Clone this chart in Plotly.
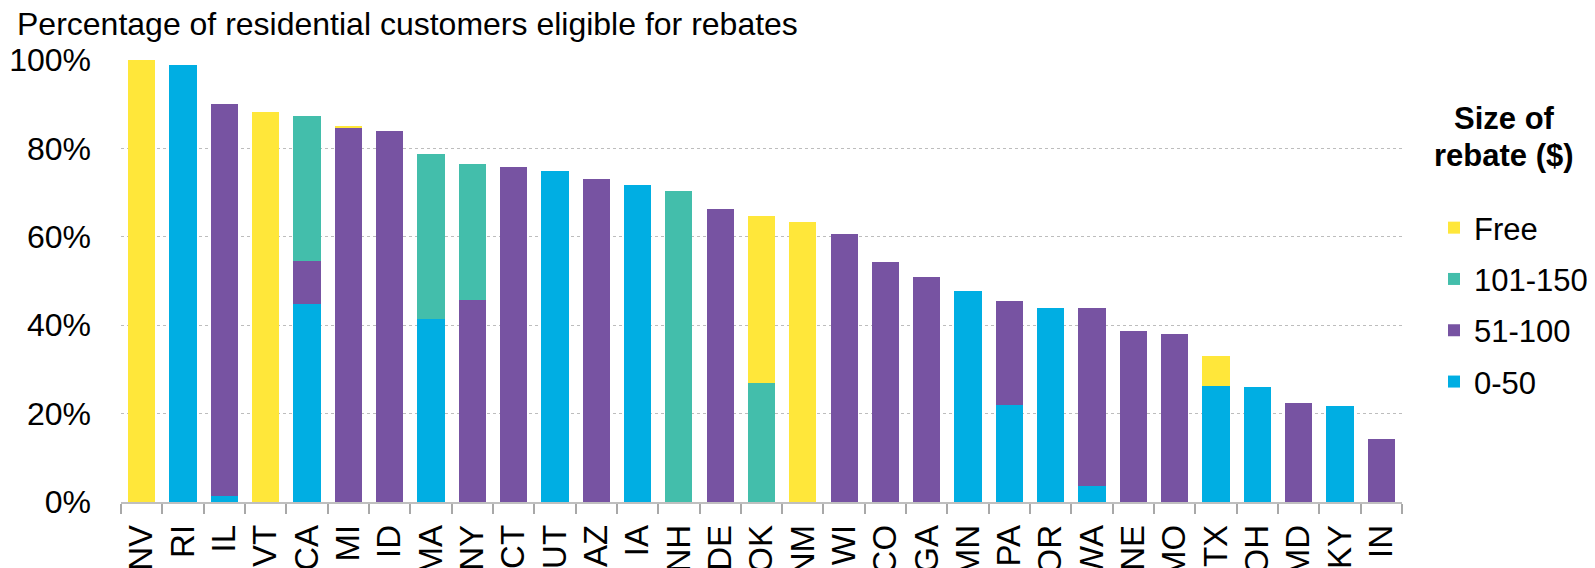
import plotly.graph_objects as go

# the page puts the figure 8 px in from the top-left corner
OFF = 8
W, H = 1595 - OFF, 568 - OFF

states = ["NV", "RI", "IL", "VT", "CA", "MI", "ID", "MA", "NY", "CT", "UT", "AZ", "IA", "NH", "DE", "OK",
          "NM", "WI", "CO", "GA", "MN", "PA", "OR", "WA", "NE", "MO", "TX", "OH", "MD", "KY", "IN"]

# share of residential customers (%) by rebate size
r_0_50 = [0, 98.9, 1.4, 0, 44.8, 0, 0, 41.3, 0, 0, 74.8, 0, 71.8, 0, 0, 0,
          0, 0, 0, 0, 47.8, 22.0, 44.0, 3.6, 0, 0, 26.2, 26.1, 0, 21.7, 0]
r_51_100 = [0, 0, 88.7, 0, 9.8, 84.8, 84.0, 0, 45.7, 75.7, 0, 73.0, 0, 0, 66.2, 0,
            0, 60.6, 54.3, 50.8, 0, 23.4, 0, 40.3, 38.8, 38.1, 0, 0, 22.4, 0, 14.2]
r_101_150 = [0, 0, 0, 0, 32.8, 0, 0, 37.4, 30.8, 0, 0, 0, 0, 70.3, 0, 27.0,
             0, 0, 0, 0, 0, 0, 0, 0, 0, 0, 0, 0, 0, 0, 0]
r_free = [99.9, 0, 0, 88.2, 0, 0.2, 0, 0, 0, 0, 0, 0, 0, 0, 0, 37.7,
          63.4, 0, 0, 0, 0, 0, 0, 0, 0, 0, 6.9, 0, 0, 0, 0]

# stacked bottom to top; legend lists them top to bottom
series = [
    ("0-50", r_0_50, "#00AEE3"),
    ("51-100", r_51_100, "#7753A2"),
    ("101-150", r_101_150, "#43BEAB"),
    ("Free", r_free, "#FFE73A"),
]

FONT = "Arial, Liberation Sans, sans-serif"

fig = go.Figure()
for i, (name, vals, color) in enumerate(series):
    fig.add_trace(go.Bar(
        x=states, y=[v / 100 for v in vals], name=name, legendgroup=name,
        legendrank=len(series) - i,
        marker=dict(color=color, line=dict(width=0)),
    ))

# plot area in figure pixels
left, right, top, bottom = 121 - OFF, 1402 - OFF, 60 - OFF, 502 - OFF


def px(x):
    return (x - OFF - left) / (right - left)


def py(y):
    return (bottom - (y - OFF)) / (bottom - top)


fig.update_layout(
    width=W, height=H,
    barmode="stack", bargap=0.34,
    plot_bgcolor="white", paper_bgcolor="white",
    font=dict(family=FONT, size=32, color="black"),
    margin=dict(l=left, r=W - right, t=top, b=H - bottom, autoexpand=False),
    title=dict(
        text="Percentage of residential customers eligible for rebates",
        xref="container", x=9 / W, xanchor="left",
        yref="container", y=1 - 5 / H, yanchor="top",
        font=dict(size=32, family=FONT, color="black"),
    ),
    legend=dict(
        x=px(1434), xanchor="left",
        y=py(201), yanchor="top",
        traceorder="grouped", tracegroupgap=8,
        font=dict(size=31, family=FONT),
        bgcolor="rgba(0,0,0,0)",
    ),
    annotations=[
        dict(text="<b>Size of</b>", xref="paper", yref="paper",
             x=px(1504), xanchor="center", y=py(118), yanchor="middle",
             showarrow=False, font=dict(size=31, family=FONT, color="black")),
        dict(text="<b>rebate ($)</b>", xref="paper", yref="paper",
             x=px(1504), xanchor="center", y=py(155), yanchor="middle",
             showarrow=False, font=dict(size=31, family=FONT, color="black")),
    ],
)

fig.update_xaxes(
    showline=True, linecolor="#BFBFBF", linewidth=1.5,
    ticks="outside", tickson="boundaries", ticklen=10, tickcolor="#A8A8A8", tickwidth=1.5,
    tickangle=-90, tickfont=dict(size=33), ticklabelstandoff=8, automargin=False,
)
fig.update_yaxes(
    range=[0, 1], tickformat=".0%", dtick=0.2,
    showgrid=True, gridcolor="#BDBDBD", griddash="dot", gridwidth=1,
    zeroline=False, showline=False, ticks="", ticklabelstandoff=29,
    tickfont=dict(size=32), automargin=False,
)

fig.write_html("out.html")
